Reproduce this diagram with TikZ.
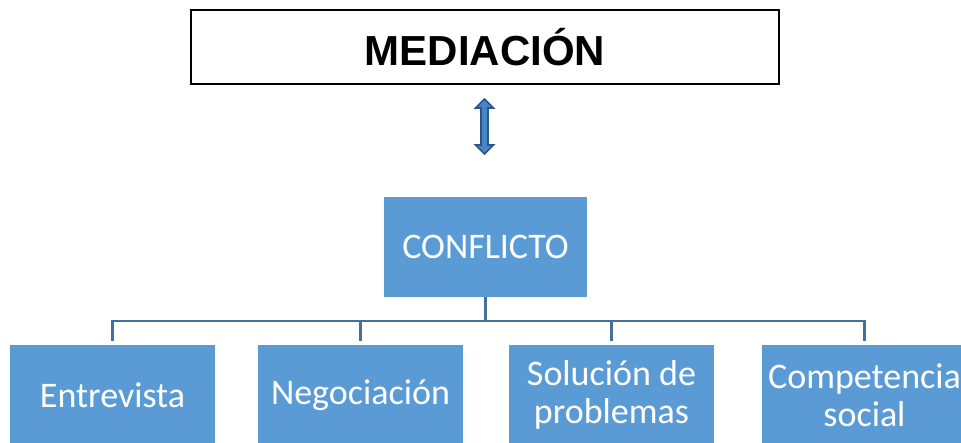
\documentclass[tikz,border=0pt]{standalone}
\usepackage{fontspec}
\setmainfont{Carlito}
\newfontfamily\headfont{Liberation Sans}
\definecolor{boxblue}{HTML}{5B9BD5}
\definecolor{lineblue}{HTML}{41719C}
\definecolor{arrowfill}{HTML}{4A84C4}
\definecolor{arrowedge}{HTML}{2A5783}
\begin{document}
\begin{tikzpicture}[x=1pt,y=-1pt]
		\tikzstyle{every node}+=[inner sep=0pt]
		\tikzstyle{leaf}=[fill=boxblue, text=white, minimum width=205pt, minimum height=100pt, align=center, font=\fontsize{36}{38}\selectfont]
		\tikzstyle{conn}=[lineblue, line width=2.8pt]
		\useasboundingbox (0,0) rectangle (961,443);
		\node [draw=black, line width=1.6pt, minimum width=588pt, minimum height=74pt, font=\headfont\bfseries\fontsize{42}{50}\selectfont] (med) at (485,47) {MEDIACIÓN};
		\coordinate (atop) at (484.5,99);
		\coordinate (abot) at (484.5,154);
		\draw [arrowedge, fill=arrowfill, line width=1.6pt, line join=miter] (atop) -- ++(9,9) -- ++(-5.5,0) -- ++(0,37) -- ++(5.5,0) -- (abot) -- ++(-9,-9) -- ++(5.5,0) -- ++(0,-37) -- ++(-5.5,0) -- cycle;
		\node [leaf, minimum width=203pt] (conf) at (485.5,247) {CONFLICTO};
		\node [leaf] (entr) at (112.5,395) {Entrevista};
		\node [leaf] (nego) at (360.5,395) {Negociación};
		\node [leaf] (solu) at (611.5,395) {Solución de\\problemas};
		\node [leaf] (comp) at (864.5,395) {Competencia\\social};
		\coordinate (bus) at (485.5,321);
		\draw [conn] (conf.south) -- (bus);
		\foreach \n in {entr,nego,solu,comp}
			\draw [conn, shorten >=4pt] (bus) -| (\n.north);
	\end{tikzpicture}
\end{document}
